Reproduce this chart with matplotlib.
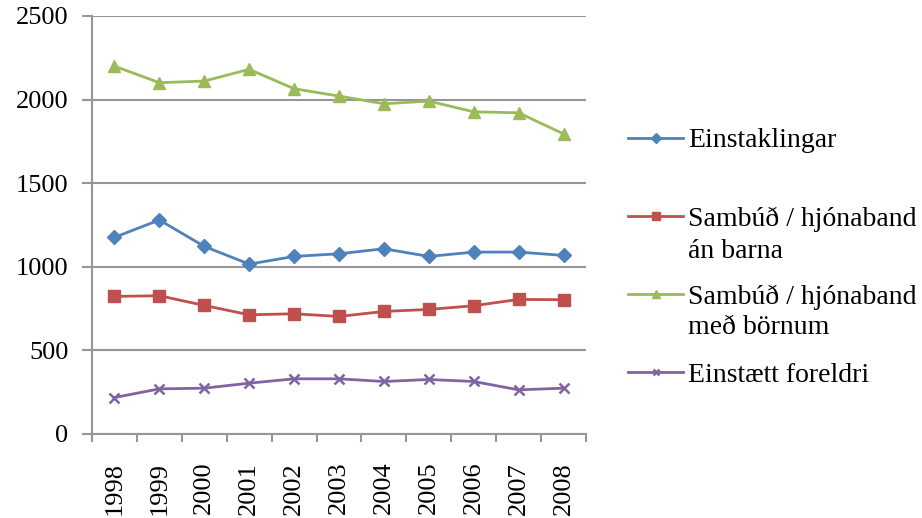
import matplotlib
matplotlib.use('Agg')
import matplotlib.pyplot as plt
import numpy as np

years = ['1998', '1999', '2000', '2001', '2002', '2003', '2004', '2005', '2006', '2007', '2008']
einstaklingar = [1176, 1280, 1122, 1016, 1062, 1078, 1108, 1062, 1088, 1088, 1068]
an_barna = [823, 827, 769, 713, 719, 703, 733, 745, 767, 805, 803]
med_bornum = [2200, 2101, 2111, 2181, 2065, 2021, 1975, 1991, 1927, 1921, 1795]
einstaett = [218, 270, 274, 304, 330, 330, 314, 326, 314, 264, 274]

series = [
    (einstaklingar, 'Einstaklingar', '#4F81BD', 'D', 7),
    (an_barna, 'Sambúð / hjónaband', '#C0504D', 's', 8),
    (med_bornum, 'Sambúð / hjónaband', '#9BBB59', '^', 9),
    (einstaett, 'Einstætt foreldri', '#8064A2', 'x', 7),
]
second_lines = ['án barna', 'með börnum']

plt.rcParams['font.family'] = ['Liberation Serif', 'DejaVu Serif']
grid_col = '#969696'
leg_fs = 20

fig = plt.figure(figsize=(9.22, 5.18), dpi=100)
ax = fig.add_axes([92 / 922, 1 - 434 / 518, (586 - 92) / 922, (434 - 16) / 518])

x = np.arange(len(years))
handles = []
for vals, label, col, mk, ms in series:
    mew = 1.8 if mk == 'x' else 1
    h, = ax.plot(x, vals, color=col, lw=2.0, marker=mk, ms=ms, mew=mew,
                 mec=col, mfc=col, label=label, zorder=3)
    handles.append(h)

ax.set_xlim(-0.5, len(years) - 0.5)
ax.set_ylim(0, 2500)
ax.set_yticks([0, 500, 1000, 1500, 2000, 2500])
ax.yaxis.grid(True, color=grid_col, lw=1.5)
ax.set_axisbelow(True)

ax.set_xticks(x)
ax.set_xticklabels(years, rotation=90, va='top', ha='center')
ax.set_xticks(np.arange(-0.5, len(years)), minor=True)
ax.tick_params(axis='x', which='major', length=0, pad=20, labelsize=19)
ax.tick_params(axis='x', which='minor', length=6, width=1.5, color=grid_col)
ax.tick_params(axis='y', length=7, width=1.5, color=grid_col, pad=10, labelsize=19)

for s in ['top', 'right']:
    ax.spines[s].set_visible(False)
for s in ['left', 'bottom']:
    ax.spines[s].set_color(grid_col)
    ax.spines[s].set_linewidth(1.5)

leg = ax.legend(handles=handles, loc='center left',
                bbox_to_anchor=(628 / 922, 1 - 258 / 518), bbox_transform=fig.transFigure,
                frameon=False, fontsize=leg_fs, borderpad=0, borderaxespad=0,
                handlelength=1.98, handletextpad=0.18, labelspacing=1.9, markerscale=0.7)

fig.text(688 / 922, 1 - 252 / 518, second_lines[0], fontsize=leg_fs, va='center', ha='left')
fig.text(688 / 922, 1 - 328 / 518, second_lines[1], fontsize=leg_fs, va='center', ha='left')

fig.savefig('out.png', dpi=100)
